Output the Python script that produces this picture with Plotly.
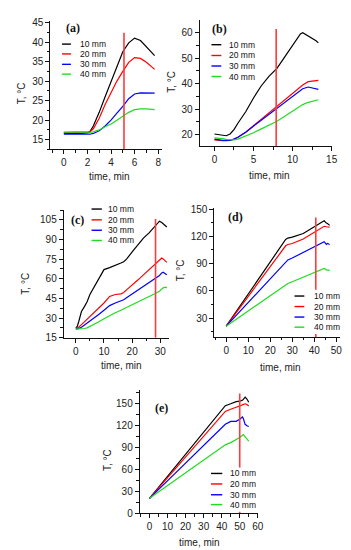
import plotly.graph_objects as go

W, H = 351, 550
names = ["10 mm", "20 mm", "30 mm", "40 mm"]
colors = ["#000000", "#ff0000", "#0000ff", "#1fdc1f"]

# ---- panel (a)
t_a = [0, 0.5, 1, 1.5, 2, 2.2, 2.5, 3, 3.5, 4, 4.5, 5, 5.5, 6, 6.5, 7, 7.5, 7.7]
a10 = [16.7, 16.6, 16.7, 16.6, 16.8, 17.0, 18.5, 22, 26, 30, 34, 37.5, 39.8, 41.0, 40.4, 38.8, 37.2, 36.5]
a20 = [16.9, 16.9, 16.9, 16.9, 16.9, 17.0, 17.8, 20.5, 24, 27, 30, 32.5, 34.8, 36, 35.8, 34.8, 33.6, 33]
a30 = [16.4, 16.4, 16.4, 16.4, 16.4, 16.4, 16.6, 17.3, 18.5, 20, 21.8, 23.5, 25.5, 26.7, 27, 27, 26.9, 26.9]
a40 = [16.9, 16.9, 16.8, 16.8, 16.9, 16.9, 17.0, 17.5, 18.3, 19, 20, 21, 22, 22.7, 22.9, 22.9, 22.8, 22.7]
mark_a = 5.1

# ---- panel (b)
t_b = [0, 0.5, 1, 1.5, 2, 2.5, 3, 4, 5, 6, 7, 8, 9, 10, 11, 11.3, 12, 12.5, 13, 13.3]
b10 = [20.3, 20, 19.6, 19.6, 20.3, 22, 24.5, 29, 34.4, 39.2, 43, 46, 50.5, 55, 59.5, 60, 58.8, 57.8, 56.8, 56]
b20 = [18, 17.8, 17.7, 17.7, 17.8, 18.3, 19, 21, 23.5, 26, 28.5, 31, 33.5, 36, 38.8, 39.5, 40.8, 41.1, 41.2, 41.3]
b30 = [18.3, 18, 17.8, 17.8, 17.8, 18.3, 19, 21, 23.3, 25.7, 28, 30.3, 32.8, 35, 37.3, 38, 38.7, 38.4, 38, 37.8]
b40 = [18.8, 18.7, 18.5, 18.2, 18, 18, 18.3, 19.4, 20.8, 22.3, 23.8, 25.3, 27.2, 29.2, 31.3, 31.8, 32.7, 33.1, 33.5, 33.7]
mark_b = 7.9

# ---- panel (c)
t_c = [0, 0.5, 1, 2, 3, 4, 5, 6, 8, 10, 12, 14, 16, 17, 18, 20, 22, 24, 26, 28, 29.7, 30.5, 31, 32, 32.3]
c10 = [22.5, 23.5, 27, 35, 38.5, 42.5, 48, 52, 60, 67, 68.5, 70, 72, 73, 75, 80.5, 86, 91, 95, 100, 104, 103, 102, 100.5, 99.5]
c20 = [22, 22.5, 23, 25, 27, 29, 31, 33, 37, 41.5, 46.5, 48, 48.5, 49.5, 51.5, 55, 59, 63, 67, 71, 74.5, 75.8, 75.2, 73.5, 72.5]
c30 = [21.5, 21.5, 22, 23, 24.5, 26, 27.5, 29, 32.5, 36, 39.5, 41.5, 43, 44, 45.5, 48.5, 51, 54, 57, 60, 62.5, 64.5, 65, 63.5, 63]
c40 = [21.5, 21.5, 21.5, 21.5, 22, 22.5, 23.5, 24.5, 27, 29.5, 32, 34, 36, 37, 38, 40, 42, 44, 46, 48.5, 50.5, 52, 53, 53.5, 53]
mark_c = 28.3

# ---- panel (d)
t_d = [0, 27, 28, 30, 35, 40, 44.5, 45.5, 46, 47]
d10 = [21, 116.5, 118, 119, 123, 130, 137, 134.5, 134, 132]
d20 = [21, 109.5, 111, 112, 117, 124, 131, 130.5, 130.5, 130]
d30 = [21, 92, 94, 96, 102, 108, 114, 111, 112, 111]
d40 = [21, 67, 68, 70, 75, 80, 84.5, 83, 83, 82.5]
mark_d = 40.7

# ---- panel (e)
t_e = [0, 42, 45, 47, 48, 50, 51, 51.5, 52, 53, 54, 55]
e10 = [20, 146.4, 149, 151.5, 152, 152.5, 153, 154, 155, 158, 155.5, 151]
e20 = [20, 138.5, 141.5, 143, 144, 146, 147, 147.5, 148, 149, 148, 146]
e30 = [20, 121, 125, 124.5, 125, 128, 130, 131, 129, 121, 119, 118]
e40 = [20, 93, 96, 98.5, 100, 103, 105, 106, 107, 104, 101, 98]
mark_e = 50

# layout geometry (pixels): x0, x1, y_top, y_bottom, xrange, yrange, ticks
panels = [
    dict(lab="(a)", t=t_a, ys=[a10, a20, a30, a40], mark=mark_a, mtop=42.4,
         px=(43, 157), py=(9.3, 140), xr=[-1.15, 8.35], yr=[12.5, 45.35],
         xd=2, xm=1, yd=5, ym=2.5, labpos=(66, 16),
         leg=dict(lx=(55, 64), tx=71, rows=(32.7, 42.7, 53.3, 63.3)), box=None,
         xt=(103, 168), yt=(14, 83)),
    dict(lab="(b)", t=t_b, ys=[b10, b20, b30, b40], mark=mark_b, mtop=61.4,
         px=(195, 330), py=(8.3, 136.7), xr=[-1.89, 15.09], yr=[15.5, 64.9],
         xd=5, xm=2.5, yd=10, ym=5, labpos=(215, 17),
         leg=dict(lx=(207, 217), tx=223, rows=(33.3, 44.3, 55, 65.7)), box=None,
         xt=(266, 167), yt=(167, 71)),
    dict(lab="(c)", t=t_c, ys=[c10, c20, c30, c40], mark=mark_c, mtop=105.7,
         px=(56.7, 163.3), py=(201.7, 331.7), xr=[-4.29, 32.9], yr=[15, 112.5],
         xd=10, xm=5, yd=15, ym=7.5, labpos=(71, 212),
         leg=dict(lx=(85, 95.5), tx=100, rows=(200.7, 211.7, 222.3, 232.7)), box=None,
         xt=(115, 360), yt=(18, 277)),
    dict(lab="(d)", t=t_d, ys=[d10, d20, d30, d40], mark=mark_d, mtop=140.7,
         px=(210, 338), py=(199.3, 331), xr=[-5.36, 51.8], yr=[9.1, 151.5],
         xd=10, xm=5, yd=30, ym=15, labpos=(231, 209),
         leg=dict(lx=(291.5, 301.5), tx=309, rows=(289.3, 300, 310.7, 321)), box=(288, 340, 283, 328),
         xt=(277, 362), yt=(175, 263)),
    dict(lab="(e)", t=t_e, ys=[e10, e20, e30, e40], mark=mark_e, mtop=163,
         px=(134, 254.3), py=(385, 510.3), xr=[-5.44, 60.1], yr=[0, 167.8],
         xd=10, xm=5, yd=30, ym=15, labpos=(156, 403),
         leg=dict(lx=(206.5, 218), tx=224, rows=(470, 480.7, 491.7, 501.7)), box=(203, 256, 464, 509),
         xt=(195, 540), yt=(101, 456)),
]

fx = lambda p: p / W
fy = lambda p: 1 - p / H

fig = go.Figure()
font_ax = dict(family="Liberation Sans, Arial, sans-serif", size=10, color="#222222")
shapes, annots = [], []
layout = {}

for i, P in enumerate(panels):
    k = "" if i == 0 else str(i + 1)
    xa, ya = "x" + k, "y" + k
    for name, col, ys in zip(names, colors, P["ys"]):
        fig.add_trace(go.Scatter(x=P["t"], y=ys, mode="lines", name=name,
                                 line=dict(color=col, width=1.2), xaxis=xa, yaxis=ya,
                                 showlegend=False))
    fig.add_trace(go.Scatter(x=[P["mark"], P["mark"]], y=[P["yr"][0], P["mtop"]], mode="lines",
                             line=dict(color="#ff3a3a", width=1.6), xaxis=xa, yaxis=ya,
                             showlegend=False, cliponaxis=False))
    axcommon = dict(showline=True, linecolor="#111111", linewidth=1, ticks="outside",
                    ticklen=4, tickwidth=1, tickcolor="#111111", showgrid=False,
                    zeroline=False, tickfont=font_ax)
    layout["xaxis" + k] = dict(axcommon, domain=[fx(P["px"][0]), fx(P["px"][1])],
                               range=P["xr"], anchor=ya, dtick=P["xd"], tick0=0,
                               minor=dict(ticks="outside", ticklen=2.5, dtick=P["xm"],
                                          tick0=0, tickcolor="#111111", showgrid=False))
    layout["yaxis" + k] = dict(axcommon, domain=[fy(P["py"][1]), fy(P["py"][0])],
                               range=P["yr"], anchor=xa, dtick=P["yd"], tick0=0,
                               minor=dict(ticks="outside", ticklen=2.5, dtick=P["ym"],
                                          tick0=0, tickcolor="#111111", showgrid=False))
    # axis titles
    annots.append(dict(text="time, min", x=fx(P["xt"][0]), y=fy(P["xt"][1]), xref="paper",
                       yref="paper", showarrow=False, font=font_ax, xanchor="center", yanchor="middle"))
    annots.append(dict(text="T, °C", x=fx(P["yt"][0]), y=fy(P["yt"][1]), xref="paper",
                       yref="paper", showarrow=False, font=font_ax, textangle=-90,
                       xanchor="center", yanchor="middle"))
    # panel label
    annots.append(dict(text="<b>" + P["lab"] + "</b>", x=fx(P["labpos"][0]), y=fy(P["labpos"][1]),
                       xref="paper", yref="paper", showarrow=False,
                       font=dict(family="Liberation Serif, Times New Roman, serif", size=12, color="#111111"),
                       xanchor="center", yanchor="middle"))
    # legend box (white) and entries
    if P["box"]:
        b = P["box"]
        shapes.append(dict(type="rect", xref="paper", yref="paper", x0=fx(b[0]), x1=fx(b[1]),
                           y0=fy(b[3]), y1=fy(b[2]), fillcolor="white", line=dict(width=0),
                           layer="above"))
    L = P["leg"]
    for name, col, ry in zip(names, colors, L["rows"]):
        shapes.append(dict(type="line", xref="paper", yref="paper", x0=fx(L["lx"][0]),
                           x1=fx(L["lx"][1]), y0=fy(ry), y1=fy(ry),
                           line=dict(color=col, width=1.4), layer="above"))
        annots.append(dict(text=name, x=fx(L["tx"]), y=fy(ry), xref="paper", yref="paper",
                           showarrow=False, xanchor="left", yanchor="middle",
                           font=dict(family="Liberation Sans, Arial, sans-serif", size=8.5,
                                     color="#111111")))

fig.update_layout(width=W, height=H, margin=dict(l=0, r=0, t=0, b=0),
                  paper_bgcolor="white", plot_bgcolor="white", showlegend=False,
                  shapes=shapes, annotations=annots, **layout)
fig.write_html("out.html")
